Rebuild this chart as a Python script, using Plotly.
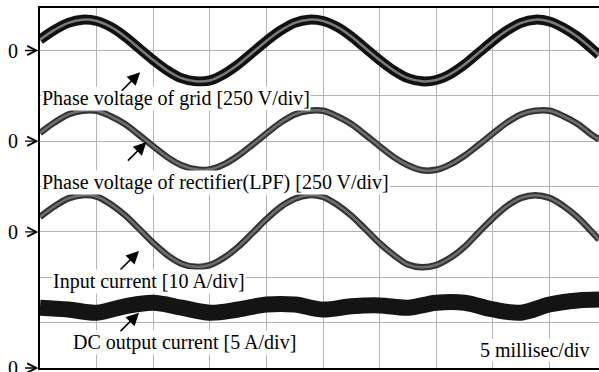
import plotly.graph_objects as go

# time axis in divisions (5 ms / div)
time_div = [0, 0.25, 0.5, 0.75, 1.0, 1.25, 1.5, 1.75, 2.0, 2.25, 2.5, 2.75, 3.0, 3.25, 3.5, 3.75,
            4.0, 4.25, 4.5, 4.75, 5.0, 5.25, 5.5, 5.75, 6.0, 6.25, 6.5, 6.75, 7.0, 7.25, 7.5, 7.75,
            8.0, 8.25, 8.5, 8.75, 9.0, 9.25, 9.5, 9.75, 9.876]

# vertical positions in screen divisions (each trace has its own zero marker)
grid_voltage = [7.24, 7.45, 7.61, 7.68, 7.65, 7.52, 7.31, 7.05, 6.79, 6.56, 6.39, 6.32, 6.34, 6.48, 6.69, 6.95,
                7.21, 7.44, 7.61, 7.68, 7.65, 7.52, 7.31, 7.05, 6.79, 6.56, 6.39, 6.32, 6.35, 6.48, 6.69, 6.95,
                7.21, 7.44, 7.61, 7.68, 7.64, 7.50, 7.30, 7.04, 6.90]
rect_voltage = [5.18, 5.41, 5.59, 5.67, 5.67, 5.55, 5.38, 5.14, 4.89, 4.65, 4.47, 4.38, 4.38, 4.49, 4.68, 4.92,
                5.17, 5.41, 5.59, 5.67, 5.67, 5.55, 5.38, 5.14, 4.89, 4.65, 4.47, 4.36, 4.37, 4.49, 4.68, 4.92,
                5.17, 5.41, 5.59, 5.67, 5.67, 5.55, 5.38, 5.14, 5.04]
input_current = [3.33, 3.56, 3.74, 3.81, 3.78, 3.61, 3.37, 3.07, 2.76, 2.49, 2.30, 2.23, 2.27, 2.43, 2.67, 2.97,
                 3.28, 3.55, 3.73, 3.81, 3.77, 3.60, 3.36, 3.06, 2.75, 2.49, 2.28, 2.22, 2.27, 2.43, 2.67, 2.99,
                 3.30, 3.57, 3.75, 3.81, 3.75, 3.57, 3.32, 3.00, 2.83]

dc_time = [0, 0.5, 1.0, 1.5, 2.0, 2.5, 3.0, 3.5, 4.0, 4.5, 5.0, 5.5, 6.0, 6.5, 7.0, 7.5, 8.0, 8.5, 9.0, 9.5, 9.876]
dc_current = [1.33, 1.29, 1.22, 1.36, 1.44, 1.33, 1.22, 1.29, 1.40, 1.40, 1.29, 1.36, 1.38, 1.33, 1.44, 1.44,
              1.29, 1.22, 1.40, 1.49, 1.51]

zero_levels = [7, 5, 3, 0]

labels = ["Phase voltage of grid [250 V/div]",
          "Phase voltage of rectifier(LPF) [250 V/div]",
          "Input current [10 A/div]",
          "DC output current [5 A/div]"]
label_pos = [(0.02, 5.95), (0.02, 4.10), (0.21, 1.90), (0.565, 0.57)]
arrow_tips = [(1.77, 6.52), (1.88, 4.98), (1.75, 2.58), (1.75, 1.22)]
time_label = "5 millisec/div"

FONT = "Liberation Serif, Times New Roman, serif"
PLOT_W = 559.0

fig = go.Figure()

def band(x, y, outer_color, outer_w, inner_color, inner_w):
    fig.add_trace(go.Scatter(x=x, y=y, mode="lines", line=dict(color=outer_color, width=outer_w, shape="spline"),
                             hoverinfo="skip", showlegend=False))
    if inner_color:
        fig.add_trace(go.Scatter(x=x, y=y, mode="lines", line=dict(color=inner_color, width=inner_w, shape="spline"),
                                 hoverinfo="skip", showlegend=False))

band(time_div, grid_voltage, "#111111", 10, "#7a7a7a", 2.5)
band(time_div, rect_voltage, "#333333", 6.5, "#6e6e6e", 2.5)
band(time_div, input_current, "#333333", 6.5, "#6e6e6e", 2.5)
band(dc_time, dc_current, "#141414", 16, None, 0)

annotations = []
for txt, (x, y) in zip(labels, label_pos):
    annotations.append(dict(x=x, y=y, xref="x", yref="y", text=txt, showarrow=False, xanchor="left",
                            yanchor="middle", bgcolor="white", borderpad=0,
                            font=dict(family=FONT, size=20, color="black")))
annotations.append(dict(x=9.72, y=0.40, xref="x", yref="y", text=time_label, showarrow=False, xanchor="right",
                        yanchor="middle", bgcolor="white", borderpad=0,
                        font=dict(family=FONT, size=20, color="black")))
for (x, y) in arrow_tips:
    annotations.append(dict(x=x, y=y, xref="x", yref="y", text="", showarrow=True, ax=-20, ay=20,
                            arrowhead=2, arrowsize=1.6, arrowwidth=1.6, arrowcolor="black", standoff=0))
for z in zero_levels:
    annotations.append(dict(x=-27.5 / PLOT_W, y=z, xref="paper", yref="y", text="0", showarrow=False,
                            xanchor="center", yanchor="middle", borderpad=0,
                            font=dict(family=FONT, size=20, color="black")))
    annotations.append(dict(x=-1.5 / PLOT_W, y=z, xref="paper", yref="y", text="", showarrow=True,
                            ax=-15, ay=0, arrowhead=5, arrowsize=1.4, arrowwidth=1.3, arrowcolor="black",
                            standoff=0))

fig.update_layout(
    width=599, height=372,
    margin=dict(l=40, r=0, t=8, b=4),
    paper_bgcolor="white", plot_bgcolor="white",
    annotations=annotations,
    xaxis=dict(range=[0, 9.876], dtick=1, tick0=0, showgrid=True, gridcolor="#b4b4b4", gridwidth=1,
               showticklabels=False, ticks="", zeroline=False, showline=True, linecolor="black", linewidth=2,
               mirror=True, fixedrange=True),
    yaxis=dict(range=[0, 7.937], dtick=1, tick0=0, showgrid=True, gridcolor="#b4b4b4", gridwidth=1,
               showticklabels=False, ticks="", zeroline=False, showline=True, linecolor="black", linewidth=2,
               fixedrange=True),
)

fig.write_html("out.html")
